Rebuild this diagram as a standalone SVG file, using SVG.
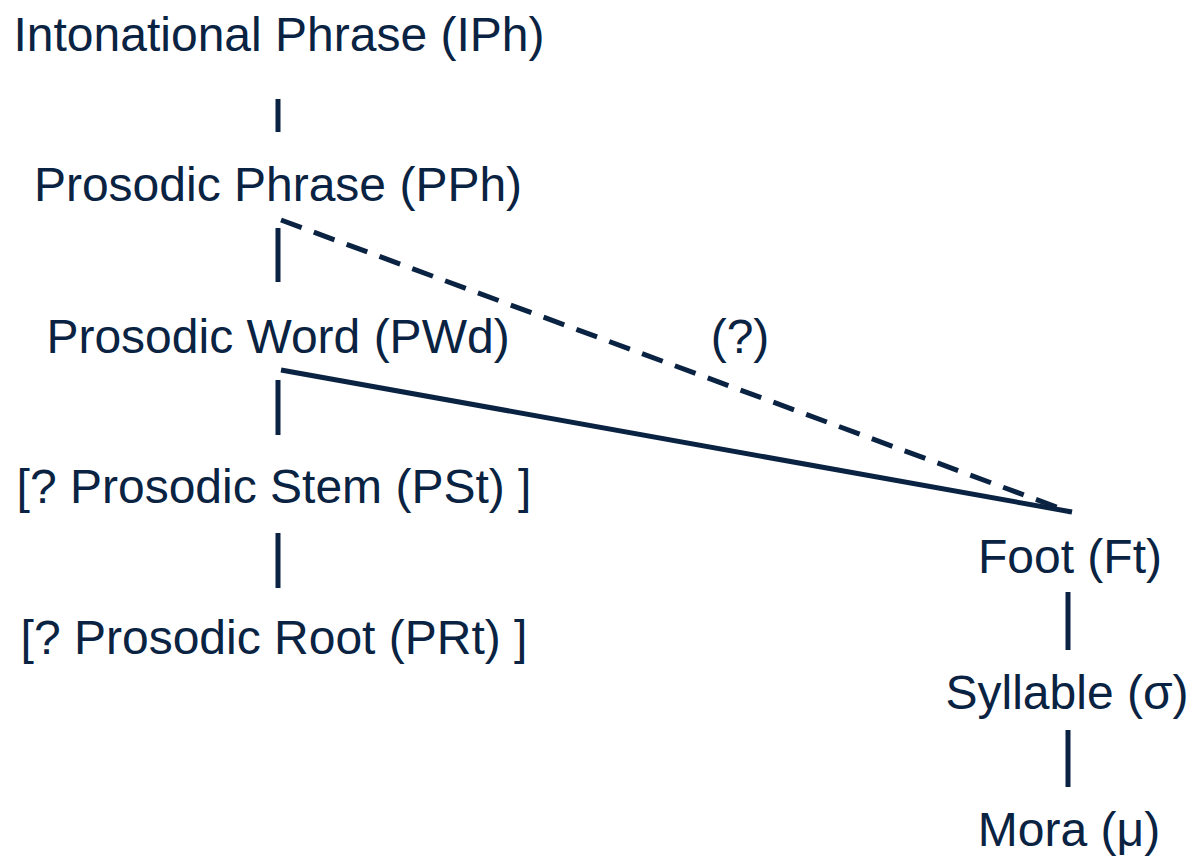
<svg xmlns="http://www.w3.org/2000/svg" width="1191" height="857" viewBox="0 0 1191 857">
<style>
text{font-family:"Liberation Sans",Arial,sans-serif;font-size:48px;fill:#0a2342;text-anchor:middle}
.l{stroke:#0a2342;stroke-width:5;fill:none}
.d{stroke-dasharray:22 13}
</style>
<rect width="1191" height="857" fill="#fff"/>
<g id="connectors">
<line class="l" x1="278" y1="99" x2="278" y2="132"/>
<line class="l" x1="278" y1="228" x2="278" y2="282"/>
<line class="l d" x1="281" y1="220" x2="1070" y2="512"/>
<line class="l" x1="281" y1="370" x2="1072" y2="512"/>
<line class="l" x1="278" y1="380" x2="278" y2="435"/>
<line class="l" x1="278" y1="533" x2="278" y2="588"/>
<line class="l" x1="1068" y1="592" x2="1068" y2="650"/>
<line class="l" x1="1068" y1="730" x2="1068" y2="787"/>
</g>
<g id="iph"><text x="279" y="51">Intonational Phrase (IPh)</text></g>
<g id="pph"><text x="278" y="201">Prosodic Phrase (PPh)</text></g>
<g id="pwd"><text x="278" y="353">Prosodic Word (PWd)</text></g>
<g id="q"><text x="740" y="353">(?)</text></g>
<g id="pst"><text x="274" y="503">[? Prosodic Stem (PSt) ]</text></g>
<g id="prt"><text x="274" y="654">[? Prosodic Root (PRt) ]</text></g>
<g id="ft"><text x="1070" y="573">Foot (Ft)</text></g>
<g id="syl"><text x="1067" y="709">Syllable (σ)</text></g>
<g id="mora"><text x="1069" y="846">Mora (μ)</text></g>
</svg>
